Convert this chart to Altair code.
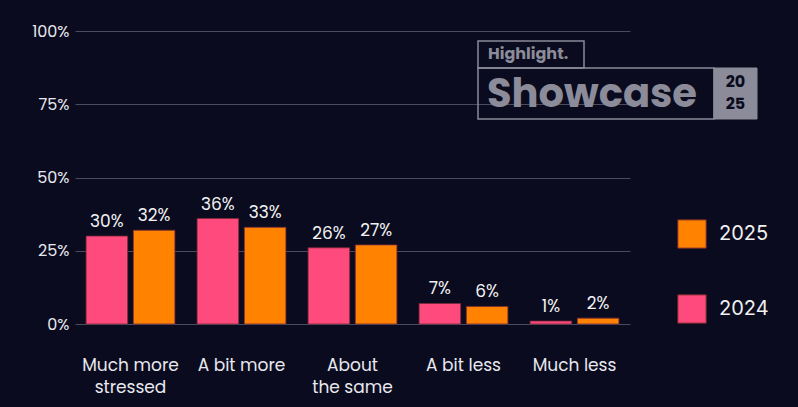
import altair as alt
import pandas as pd

categories = ["Much more stressed", "A bit more", "About the same", "A bit less", "Much less"]
cat_labels = [["Much more", "stressed"], ["A bit more"], ["About", "the same"], ["A bit less"], ["Much less"]]
values_2024 = [30, 36, 26, 7, 1]
values_2025 = [32, 33, 27, 6, 2]
years = ["2024", "2025"]

rows = []
for c, a, b in zip(categories, values_2024, values_2025):
    rows.append({"cat": c, "year": "2024", "v": a / 100, "lbl": f"{a}%"})
    rows.append({"cat": c, "year": "2025", "v": b / 100, "lbl": f"{b}%"})
df = pd.DataFrame(rows)

FONT = "Poppins, Inter"
BG = "#0a0b1f"
PINK = "#ff4a7d"
ORANGE = "#ff8200"

label_expr = "{" + ", ".join(
    f"'{c}': {cat_labels[i]!r}" for i, c in enumerate(categories)
) + "}[datum.value]"

x = alt.X("cat:N", sort=categories, title=None,
          scale=alt.Scale(paddingInner=0.2, paddingOuter=0.1),
          axis=alt.Axis(labelAngle=0, labelExpr=label_expr, domain=False, ticks=False,
                        labelPadding=41, labelFontSize=17, labelColor="#e8e8ee",
                        labelFont=FONT, labelLineHeight=22, labelBaseline="middle"))
xo = alt.XOffset("year:N", sort=years, scale=alt.Scale(paddingInner=0.12))
y = alt.Y("v:Q", title=None,
          scale=alt.Scale(domain=[0, 1]),
          axis=alt.Axis(format=".0%", values=[0, 0.25, 0.5, 0.75, 1], domain=False, ticks=False,
                        labelPadding=6, labelFontSize=16, labelColor="#e8e8ee", labelFont=FONT,
                        gridColor="#4a4b5c", gridWidth=1.2))
color = alt.Color("year:N", scale=alt.Scale(domain=["2025", "2024"], range=[ORANGE, PINK]),
                  legend=alt.Legend(title=None, orient="none", legendX=602, legendY=188,
                                    symbolType="square", symbolSize=800, symbolStrokeWidth=1,
                                    symbolStrokeColor="#7a2a2a",
                                    labelFontSize=20, labelColor="#f0f0f0", labelFont="Inter",
                                    labelOffset=12, rowPadding=41))

bars = alt.Chart(df).mark_bar(stroke="#7a2a3a", strokeWidth=0.8).encode(
    x=x, xOffset=xo, y=y, color=color)
texts = alt.Chart(df).mark_text(dy=-5, baseline="bottom", fontSize=17, color="#f2f2f2", font=FONT).encode(
    x=x, xOffset=xo, y="v:Q", text="lbl:N")

logo_df = pd.DataFrame({"a": [1]})
GREY = "#8b8b99"
logo_box1 = alt.Chart(logo_df).mark_rect(fill=None, stroke=GREY, strokeWidth=1.5).encode(
    x=alt.value(403), x2=alt.value(509), y=alt.value(10), y2=alt.value(37))
logo_box2 = alt.Chart(logo_df).mark_rect(fill=None, stroke=GREY, strokeWidth=1.5).encode(
    x=alt.value(403), x2=alt.value(639), y=alt.value(37), y2=alt.value(88))
logo_box3 = alt.Chart(logo_df).mark_rect(fill=GREY, stroke=GREY).encode(
    x=alt.value(639), x2=alt.value(682), y=alt.value(37), y2=alt.value(88))
logo_t1 = alt.Chart(logo_df).mark_text(text="Highlight.", font=FONT, fontWeight="bold",
                                       fontSize=16, color=GREY, align="left", baseline="middle").encode(
    x=alt.value(413), y=alt.value(23))
logo_t2 = alt.Chart(logo_df).mark_text(text="Showcase", font=FONT, fontWeight="bold",
                                       fontSize=40, color=GREY, align="left", baseline="middle").encode(
    x=alt.value(412), y=alt.value(64))
logo_t3a = alt.Chart(logo_df).mark_text(text="20", font=FONT, fontWeight="bold",
                                        fontSize=16, color=BG, align="center", baseline="middle").encode(
    x=alt.value(660.5), y=alt.value(51))
logo_t3b = alt.Chart(logo_df).mark_text(text="25", font=FONT, fontWeight="bold",
                                        fontSize=16, color=BG, align="center", baseline="middle").encode(
    x=alt.value(660.5), y=alt.value(73))

chart = alt.layer(bars, texts, logo_box1, logo_box2, logo_box3, logo_t1, logo_t2, logo_t3a, logo_t3b).properties(
    width=555, height=293,
    autosize=alt.AutoSizeParams(type="none"),
    padding={"left": 75, "top": 31, "right": 168, "bottom": 83},
    background=BG,
).configure_view(stroke=None)

chart.save("out.html", embed_options={"renderer": "svg", "actions": False})
